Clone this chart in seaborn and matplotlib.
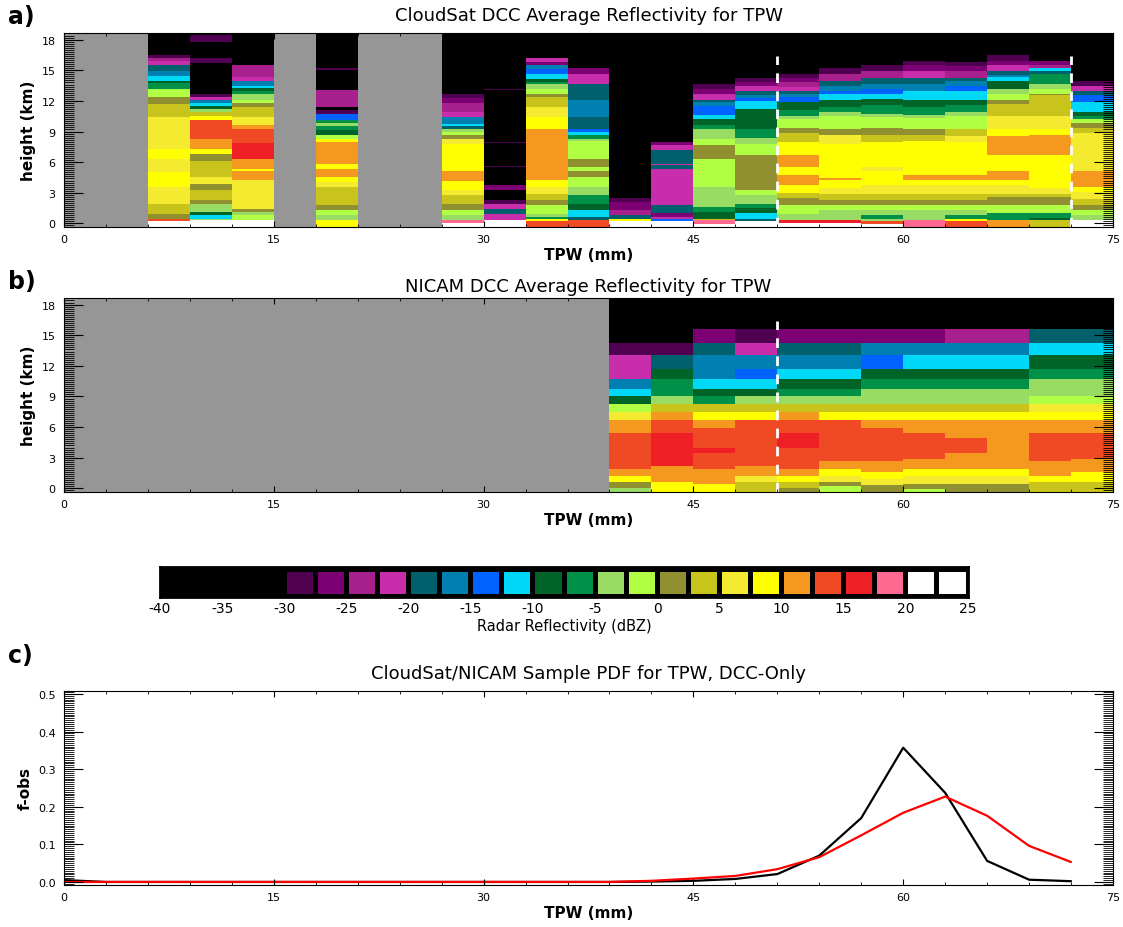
import numpy as np
import pandas as pd
import matplotlib
matplotlib.use("Agg")
import matplotlib.pyplot as plt
from matplotlib.colors import ListedColormap, BoundaryNorm
from matplotlib.ticker import MultipleLocator, FormatStrFormatter
import seaborn as sns

sns.set_theme(style="ticks", context="paper")
plt.rcParams['font.family'] = ['DejaVu Sans']
plt.rcParams.update({
    'text.color': 'black',
    'axes.labelcolor': 'black',
    'xtick.color': 'black',
    'ytick.color': 'black',
    'axes.axisbelow': False,
    'axes.unicode_minus': False,
})

# TPW bins (mm) and height axis (km)
TPW_EDGES = list(range(0, 78, 3))
HEIGHT_LIMITS = (-0.35, 18.65)
DASH_TOP = 16.4
DASH_TPW_A = [51, 72]
DASH_TPW_B = [51]

# reflectivity colour scale (dBZ)
DBZ_BOUNDS = [-40, -30, -27.5, -25, -22.5, -20, -17.5, -15, -12.5, -10, -7.5, -5,
              -2.5, 0, 2.5, 5, 7.5, 10, 12.5, 15, 17.5, 20, 22.5, 25]
DBZ_COLORS = ['#000000',
              '#4f0050', '#7c0074', '#a8208e', '#c82eac', '#00606c', '#0080b0',
              '#0062ff', '#00d8f8', '#006428', '#009048', '#98dc64', '#b0ff44',
              '#909030', '#c8c41c', '#f4ea30', '#ffff00', '#f49820', '#f04a24',
              '#ee2026', '#ff6890', '#ffffff', '#ffffff']
CBAR_TICKS = list(range(-40, 30, 5))
MISSING_GRAY = '#969696'

# CloudSat mean profiles per TPW bin: (layer bottom km, dBZ); None = no samples
CLOUDSAT_PROFILES = [
    None,
    None,
    [(-0.35, 21), (0.21, 14), (0.47, 1), (0.96, 4), (1.94, 6), (3.57, 9), (5.03, 6), (6.34, 9), (7.31, 6),
     (10.41, 4), (11.71, 1), (12.36, -1), (13.18, -6), (13.76, -9), (13.99, -11), (14.48, -16),
     (14.97, -19), (15.52, -21), (15.88, -24), (16.17, -29), (16.5, -35)],
    [(-0.35, 21), (0.31, -4), (0.47, -11), (0.8, -9), (1.13, -4), (1.94, 1), (2.27, 4), (3.24, 1),
     (3.89, 6), (4.54, 4), (6.08, 1), (6.83, 9), (7.31, 11), (8.29, 14), (10.08, 9), (10.51, 4),
     (10.9, -4), (11.22, -9), (11.48, -11), (11.81, -16), (12.04, -21), (12.36, -29), (12.69, -35),
     (15.68, -29), (16.17, -35), (17.8, -29), (18.45, -35)],
    [(-0.35, 21), (0.31, -1), (0.8, -4), (1.13, 1), (1.45, 6), (4.22, 11), (5.1, 9), (5.36, 11),
     (6.34, 16), (7.9, 14), (9.2, 11), (9.59, 6), (10.41, 4), (11.39, 1), (11.81, -1), (12.13, -4),
     (12.69, -6), (13.01, -9), (13.24, -11), (13.5, -16), (13.99, -21), (14.32, -24), (15.52, -35)],
    None,
    [(-0.35, 9), (0.31, -4), (0.8, -1), (1.29, 1), (1.78, 4), (3.57, 6), (4.06, 9), (4.54, 11),
     (5.36, 9), (5.85, 11), (7.97, 9), (8.29, -1), (8.62, -9), (9.17, -6), (9.5, -4), (9.82, -6),
     (10.08, -14), (10.73, -29), (11.06, -35), (11.39, -24), (13.08, -35), (15.0, -29), (15.2, -35)],
    None,
    None,
    [(-0.35, 21), (0.05, 19), (0.31, -4), (0.8, -1), (1.29, 1), (1.94, 4), (2.75, 6), (3.24, 9),
     (4.12, 11), (5.1, 9), (7.8, 6), (8.29, 1), (8.62, -1), (8.94, -4), (9.27, -19), (9.53, -11),
     (9.76, -16), (10.41, -21), (10.9, -24), (11.81, -26), (12.26, -29), (12.69, -35)],
    [(-0.35, 21), (0.31, -21), (0.96, -19), (1.45, -21), (1.94, -29), (2.27, -35), (3.24, -26),
     (3.8, -35), (5.5, -29), (5.6, -35), (7.9, -29), (8.0, -35), (13.05, -29), (13.15, -35)],
    [(-0.35, 14), (0.21, 9), (0.41, -6), (0.64, -4), (0.96, -1), (1.78, 1), (2.27, 4), (2.92, 6),
     (3.57, 9), (4.22, 11), (9.27, 9), (10.41, 6), (11.39, 4), (12.36, 1), (12.69, -1), (13.18, -4),
     (13.67, -6), (13.83, -9), (14.15, -11), (14.64, -14), (15.13, -16), (15.52, -26), (15.78, -21),
     (16.17, -35)],
    [(-0.35, 14), (0.31, -19), (0.64, -11), (1.29, -9), (1.94, -6), (2.82, -4), (3.57, -1), (4.54, 1),
     (5.1, -1), (5.52, 1), (6.34, -1), (8.03, -4), (8.29, -6), (8.62, -11), (8.94, -14), (9.27, -19),
     (10.41, -16), (12.13, -19), (13.67, -21), (14.64, -26), (15.2, -35)],
    [(-0.35, 21), (0.25, 9), (0.47, -19), (0.8, -24), (1.29, -26), (2.1, -29), (2.49, -35)],
    [(-0.35, 21), (0.25, -14), (0.47, -21), (0.64, -26), (1.06, -19), (1.78, -21), (5.36, -19),
     (5.68, -21), (5.85, -19), (7.15, -21), (7.64, -26), (7.97, -35)],
    [(-0.35, 21), (-0.02, 19), (0.31, 4), (0.47, -9), (1.13, -6), (1.61, -4), (3.57, -1), (6.34, 1),
     (7.64, -1), (8.29, -4), (9.2, -6), (9.59, -9), (10.18, -11), (10.64, -14), (11.48, -16),
     (11.87, -19), (12.13, -21), (12.69, -26), (13.18, -29), (13.67, -35)],
    [(-0.35, 21), (0.21, -19), (0.47, -11), (1.06, -9), (1.52, -6), (1.94, -4), (2.75, -1), (3.24, 1),
     (6.73, -1), (7.8, -4), (8.36, -6), (9.2, -9), (11.16, -11), (11.94, -14), (12.26, -16),
     (12.53, -19), (13.01, -21), (13.44, -26), (13.83, -29), (14.22, -35)],
    [(-0.35, 21), (0.05, 16), (0.31, -4), (0.96, -1), (1.78, 1), (2.49, 4), (3.01, 9), (3.8, 11),
     (4.77, 9), (5.52, 11), (6.73, 9), (7.97, 4), (8.88, 1), (9.33, -1), (10.18, -4), (10.51, -6),
     (11.06, -9), (11.87, -14), (12.36, -16), (12.69, -19), (13.01, -21), (13.34, -24), (13.83, -26),
     (14.22, -29), (14.64, -35)],
    [(-0.35, 21), (0.05, 16), (0.31, -4), (1.29, -1), (1.78, 1), (2.27, 4), (2.92, 6), (3.47, 9),
     (4.22, 11), (4.45, 9), (7.8, 6), (8.62, 1), (9.27, -1), (10.51, -4), (10.9, -6), (11.39, -9),
     (12.13, -11), (12.69, -14), (13.01, -16), (13.44, -19), (13.9, -24), (14.64, -29), (15.2, -35)],
    [(-0.35, 21), (-0.02, 14), (0.21, -4), (0.47, -6), (0.8, -4), (1.29, -1), (1.78, 1), (2.27, 4),
     (2.92, 6), (3.8, 9), (5.1, 6), (5.52, 9), (7.97, 4), (8.62, 1), (9.33, -1), (10.41, -4),
     (10.73, -6), (11.55, -9), (12.2, -11), (12.69, -14), (13.18, -16), (13.67, -19), (14.22, -24),
     (14.97, -29), (15.52, -35)],
    [(-0.35, 19), (0.31, -4), (1.29, -1), (1.78, 1), (2.27, 4), (2.92, 6), (3.73, 9), (4.22, 11),
     (4.77, 9), (8.03, 4), (8.62, 1), (9.27, -1), (10.31, -4), (10.64, -6), (11.39, -9), (12.13, -11),
     (13.01, -16), (13.67, -19), (14.22, -21), (14.97, -26), (15.52, -29), (15.95, -35)],
    [(-0.35, 14), (0.21, 9), (0.47, -6), (0.8, -4), (1.29, -1), (1.78, 1), (2.27, 4), (2.92, 6),
     (3.73, 9), (4.22, 11), (4.77, 9), (7.97, 6), (8.55, 4), (9.27, -1), (10.51, -4), (10.9, -6),
     (11.61, -9), (12.13, -11), (13.01, -14), (13.44, -16), (13.9, -19), (14.22, -24), (14.97, -26),
     (15.39, -29), (15.85, -35)],
    [(-0.35, 11), (0.31, -6), (1.06, -1), (1.78, 1), (2.59, 4), (2.92, 6), (3.8, 9), (4.22, 11),
     (5.1, 9), (6.66, 11), (8.55, 9), (9.27, 6), (10.51, 4), (11.71, 1), (12.13, -1), (12.69, -4),
     (13.18, -9), (13.99, -11), (14.32, -16), (14.55, -19), (14.97, -21), (15.52, -26), (15.95, -29),
     (16.5, -35)],
    [(-0.35, 4), (0.31, -9), (0.54, -6), (1.06, -1), (1.78, 1), (2.59, 4), (2.92, 6), (3.47, 9),
     (6.66, 11), (8.62, 9), (9.27, 6), (10.51, 4), (12.53, 1), (12.69, -1), (13.18, -4), (13.67, -6),
     (14.64, -19), (14.97, -11), (15.2, -24), (15.52, -26), (15.95, -35)],
    [(-0.35, 21), (0.31, -4), (0.8, -1), (1.29, 1), (1.78, 4), (2.36, 6), (3.08, 9), (3.57, 11),
     (5.1, 6), (8.88, 4), (9.33, 1), (9.86, -1), (10.18, -6), (10.51, -9), (10.9, -11), (11.87, -14),
     (12.59, -19), (13.01, -21), (13.44, -29), (13.99, -35)],
]

# NICAM mean profiles per TPW bin: (layer bottom km, dBZ); None = no samples
NICAM_PROFILES = [None] * 13 + [
    [(-0.35, -4), (0.08, 1), (0.64, 9), (1.22, 11), (1.88, 14), (5.46, 11), (6.7, 6), (7.48, -1),
     (8.23, -9), (9.04, -11), (9.76, -16), (10.74, -21), (13.02, -29), (14.19, -35)],
    [(-0.35, 9), (0.64, 11), (2.2, 16), (5.46, 14), (6.7, 11), (7.48, 4), (8.23, -4), (9.04, -6),
     (10.74, -9), (11.71, -19), (13.02, -29), (14.19, -35)],
    [(-0.35, 9), (0.41, 11), (1.88, 14), (3.44, 16), (3.99, 14), (5.95, 11), (6.7, 9), (7.48, 4),
     (8.23, -6), (9.04, -9), (9.76, -11), (10.74, -16), (13.02, -19), (14.19, -26), (15.56, -35)],
    [(-0.35, 4), (0.64, 6), (1.22, 11), (2.2, 14), (6.7, 9), (7.48, 4), (8.23, -4), (9.04, -9),
     (9.76, -11), (10.74, -14), (11.71, -16), (13.02, -21), (14.19, -29), (15.56, -35)],
    [(-0.35, 1), (0.08, 4), (0.64, 9), (1.22, 11), (1.88, 14), (3.99, 16), (5.46, 14), (6.7, 11),
     (7.48, 4), (8.23, -4), (9.04, -6), (9.76, -9), (10.74, -11), (11.71, -16), (13.02, -19),
     (14.19, -26), (15.56, -35)],
    [(-0.35, -1), (0.25, 1), (0.64, 6), (1.22, 9), (1.88, 11), (2.69, 14), (6.7, 9), (7.48, 4),
     (8.23, -4), (9.04, -6), (9.76, -9), (10.74, -11), (11.71, -16), (13.02, -19), (14.19, -26),
     (15.56, -35)],
    [(-0.35, 1), (0.31, 6), (0.9, 9), (1.62, 11), (2.69, 14), (5.95, 11), (6.7, 9), (7.48, 4),
     (8.23, -4), (9.76, -6), (10.74, -9), (11.71, -14), (13.02, -16), (14.19, -26), (15.56, -35)],
    [(-0.35, -1), (-0.08, 1), (0.41, 6), (1.22, 9), (1.88, 11), (2.85, 14), (5.46, 11), (6.7, 9),
     (7.48, 4), (8.23, -4), (9.76, -6), (10.74, -9), (11.71, -11), (13.02, -16), (14.19, -26),
     (15.56, -35)],
    [(-0.35, 1), (0.41, 6), (1.22, 9), (1.88, 11), (3.44, 14), (4.97, 11), (6.7, 9), (7.48, 4),
     (8.23, -4), (9.76, -6), (10.74, -9), (11.71, -11), (13.02, -16), (14.19, -24), (15.56, -35)],
    [(-0.35, 1), (0.41, 6), (1.22, 9), (1.88, 11), (6.7, 9), (7.48, 4), (8.23, -4), (9.76, -6),
     (10.74, -9), (11.71, -11), (13.02, -16), (14.19, -24), (15.56, -35)],
    [(-0.35, 4), (0.64, 9), (1.22, 11), (2.69, 14), (5.46, 11), (6.7, 9), (7.48, 6), (8.23, -1),
     (9.04, -4), (10.74, -6), (11.71, -9), (13.02, -11), (14.19, -19), (15.56, -35)],
    [(-0.35, 4), (0.64, 9), (1.62, 11), (2.85, 14), (5.46, 11), (6.7, 9), (7.48, 6), (8.23, -1),
     (9.04, -4), (10.74, -6), (11.71, -9), (13.02, -11), (14.19, -19), (15.56, -35)],
]

# sample PDF (fraction of DCC observations per TPW bin)
PDF_TPW = list(range(0, 75, 3))
PDF_CLOUDSAT = [0.005, 0, 0, 0, 0, 0, 0, 0, 0, 0, 0, 0, 0, 0,
                0.001, 0.003, 0.008, 0.021, 0.07, 0.17, 0.357, 0.237, 0.056, 0.006, 0.002]
PDF_NICAM = [0, 0, 0, 0, 0, 0, 0, 0, 0, 0, 0, 0, 0, 0,
             0.003, 0.009, 0.016, 0.034, 0.066, 0.124, 0.184, 0.227, 0.176, 0.096, 0.053]


def profile_grid(profiles, z_centers):
    grid = np.full((len(z_centers), len(profiles)), np.nan)
    for j, prof in enumerate(profiles):
        if prof is None:
            continue
        bottoms = np.array([b for b, _ in prof])
        values = np.array([v for _, v in prof], dtype=float)
        idx = np.clip(np.searchsorted(bottoms, z_centers, side='right') - 1, 0, None)
        grid[:, j] = values[idx]
    return grid


def style_axes(ax, ymajor, yminor):
    ax.set_axisbelow(False)
    ax.xaxis.set_major_locator(MultipleLocator(15))
    ax.xaxis.set_minor_locator(MultipleLocator(3))
    ax.yaxis.set_major_locator(MultipleLocator(ymajor))
    ax.yaxis.set_minor_locator(MultipleLocator(yminor))
    ax.tick_params(axis='both', which='both', direction='in', top=True, right=True,
                   labelsize=8, colors='black')
    ax.tick_params(axis='y', which='major', length=14, width=0.8, pad=6)
    ax.tick_params(axis='y', which='minor', length=7, width=0.6)
    ax.tick_params(axis='x', which='major', length=4.5, width=0.8, pad=5)
    ax.tick_params(axis='x', which='minor', length=2.5, width=0.6)
    for sp in ax.spines.values():
        sp.set_linewidth(0.8)
        sp.set_color('black')
        sp.set_zorder(5)
    ax.set_xlabel("TPW (mm)", fontsize=11, fontweight='bold', labelpad=2)


def reflectivity_panel(ax, profiles, title, dash_x, pad):
    z_edges = np.linspace(HEIGHT_LIMITS[0], HEIGHT_LIMITS[1], 1901)
    z_centers = 0.5 * (z_edges[:-1] + z_edges[1:])
    grid = np.ma.masked_invalid(profile_grid(profiles, z_centers))
    cmap = ListedColormap(DBZ_COLORS)
    cmap.set_bad(MISSING_GRAY)
    norm = BoundaryNorm(DBZ_BOUNDS, cmap.N)
    ax.pcolormesh(TPW_EDGES, z_edges, grid, cmap=cmap, norm=norm, shading='flat', zorder=0)
    for x in dash_x:
        ax.plot([x, x], [HEIGHT_LIMITS[0], DASH_TOP], color='white', linewidth=2,
                dashes=(3.5, 3), zorder=1)
    ax.set_xlim(0, 75)
    ax.set_ylim(*HEIGHT_LIMITS)
    style_axes(ax, 3, 0.2)
    ax.set_ylabel("height (km)", fontsize=11, fontweight='bold', labelpad=4)
    ax.set_title(title, fontsize=13, pad=pad)


fig = plt.figure(figsize=(11.23, 9.28), dpi=100)
ax_a = fig.add_axes([0.0570, 0.7543, 0.9341, 0.2091])
ax_b = fig.add_axes([0.0570, 0.4688, 0.9341, 0.2091])
ax_cb = fig.add_axes([0.1425, 0.3556, 0.7195, 0.0323])
ax_c = fig.add_axes([0.0570, 0.0453, 0.9341, 0.2091])

reflectivity_panel(ax_a, CLOUDSAT_PROFILES, "CloudSat DCC Average Reflectivity for TPW", DASH_TPW_A, 9)
reflectivity_panel(ax_b, NICAM_PROFILES, "NICAM DCC Average Reflectivity for TPW", DASH_TPW_B, 5)

# discrete colour bar
lows = np.array(DBZ_BOUNDS[1:-1])
ax_cb.set_facecolor('black')
ax_cb.bar(lows + 1.25, 0.72, bottom=0.1, width=2.1, color=DBZ_COLORS[1:], linewidth=0)
ax_cb.set_xlim(DBZ_BOUNDS[0], DBZ_BOUNDS[-1])
ax_cb.set_ylim(0, 1)
ax_cb.set_yticks([])
ax_cb.set_xticks(CBAR_TICKS)
ax_cb.tick_params(axis='x', length=0, pad=3, labelsize=10, colors='black')
for sp in ax_cb.spines.values():
    sp.set_linewidth(2)
    sp.set_color('black')
ax_cb.set_xlabel("Radar Reflectivity (dBZ)", fontsize=10.5, labelpad=2)

# sample PDF panel
pdf = pd.DataFrame({
    "TPW": PDF_TPW * 2,
    "f-obs": PDF_CLOUDSAT + PDF_NICAM,
    "Source": ["CloudSat"] * len(PDF_TPW) + ["NICAM"] * len(PDF_TPW),
})
sns.lineplot(data=pdf, x="TPW", y="f-obs", hue="Source", hue_order=["CloudSat", "NICAM"],
             palette={"CloudSat": "black", "NICAM": "red"}, linewidth=1.6,
             legend=False, ax=ax_c)
ax_c.set_xlim(0, 75)
ax_c.set_ylim(-0.008, 0.508)
style_axes(ax_c, 0.1, 0.005)
ax_c.yaxis.set_major_formatter(FormatStrFormatter('%.1f'))
ax_c.set_ylabel("f-obs", fontsize=11, fontweight='bold', labelpad=4)
ax_c.set_title("CloudSat/NICAM Sample PDF for TPW, DCC-Only", fontsize=13, pad=9)

for label, ypos in [("a)", 0.995), ("b)", 0.709), ("c)", 0.306)]:
    fig.text(0.007, ypos, label, fontsize=17, fontweight='bold', va='top', ha='left')

fig.savefig("out.png", dpi=100)
plt.close(fig)
